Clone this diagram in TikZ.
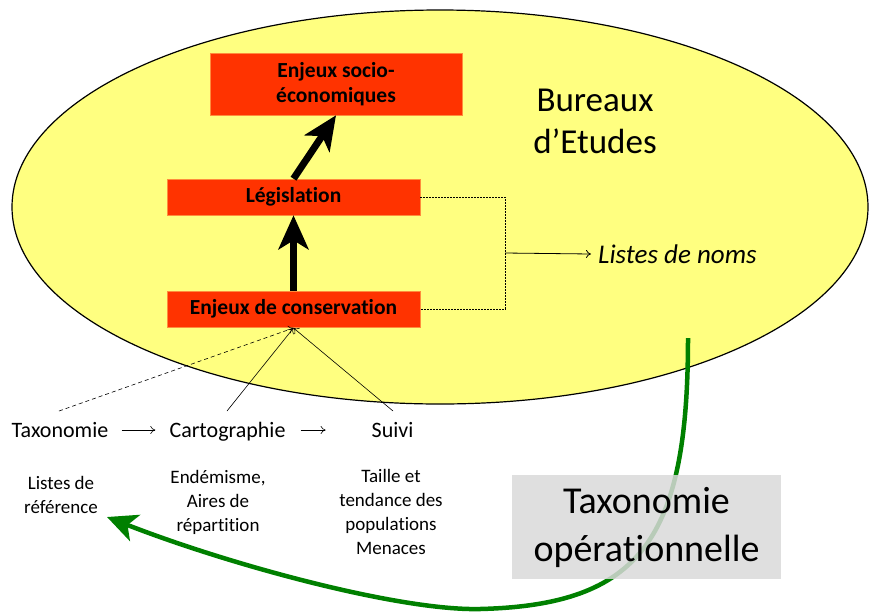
\documentclass[tikz,border=0pt]{standalone}
\usepackage{fontspec}
\setmainfont{Carlito}[Ligatures=CommonOff]
\usetikzlibrary{arrows.meta}
\definecolor{ellfill}{RGB}{255,255,128}
\definecolor{boxred}{RGB}{255,51,0}
\definecolor{boxedge}{RGB}{255,140,60}
\definecolor{darkgreen}{RGB}{0,128,0}
\definecolor{lightgray}{RGB}{217,217,217}
\tikzset{
  redbox/.style={fill=boxred, draw=boxedge, line width=0.6pt, minimum width=253pt, inner sep=0pt,
    font=\fontsize{21.5}{25}\selectfont\bfseries, align=center},
  bigarrow/.style={line width=7pt, -{Stealth[length=34pt,width=30pt,inset=9pt]}},
  thinarrow/.style={line width=0.6pt, -{To[length=5pt,width=8pt]}},
  rowtext/.style={font=\fontsize{22}{26}\selectfont, inner sep=0pt, anchor=base},
  smalltext/.style={font=\fontsize{19}{24}\selectfont, align=center, inner sep=0pt},
}
\begin{document}
\begin{tikzpicture}[x=1pt,y=-1pt]
\useasboundingbox (0,0) rectangle (869,611);
% ellipse
\draw[fill=ellfill, line width=1.2pt] (440,207) ellipse [x radius=428, y radius=197];
% boxes
\node[redbox, minimum width=252pt, minimum height=62pt] (socio) at (336,84) {Enjeux socio-\\économiques};
\node[redbox, minimum height=36pt] (leg) at (293.5,197) {Législation};
\node[redbox, minimum height=36pt] (cons) at (293.5,309) {Enjeux de conservation};
% thick arrows
\draw[bigarrow] (cons.north) -- (leg.south);
\draw[bigarrow] (leg.north) -- (socio.south);
% dashed bracket
\coordinate (br) at (505,253);
\draw[dashed, line width=0.6pt, dash pattern=on 2pt off 1pt] (leg.east) -- (leg.east -| br) -- (cons.east -| br) -- (cons.east);
\node[anchor=west, font=\fontsize{27}{32}\selectfont\itshape, inner sep=0pt] (noms) at (598,254) {Listes de noms};
\draw[thinarrow, line width=0.8pt] (br) -- (noms.west -| 591,0);
% Bureaux
\node[font=\fontsize{35}{42}\selectfont, align=center, inner sep=0pt] (bur) at (595,121) {Bureaux\\d’Etudes};
% bottom row
\node[rowtext] (tax) at (60,437) {Taxonomie};
\node[rowtext] (carto) at (227.5,437) {Cartographie};
\node[rowtext] (suivi) at (392.5,437) {Suivi};
\draw[thinarrow] ([xshift=13pt,yshift=7pt]tax.base east) -- ([xshift=-14pt,yshift=7pt]carto.base west);
\draw[thinarrow] ([xshift=15pt,yshift=7pt]carto.base east) -- ([xshift=40pt,yshift=7pt]carto.base east);
% arrows into conservation
\coordinate (apex) at (293.5,328);
\draw[thinarrow, dashed, dash pattern=on 4pt off 3pt] (59,411) -- (apex);
\draw[thinarrow] (227,411) -- (apex);
\draw[thinarrow] (393,411) -- (apex);
% lower texts
\node[smalltext] (ref) at (61,495) {Listes de\\référence};
\node[smalltext] (endem) at (218,502) {Endémisme,\\Aires de\\répartition};
\node[smalltext] (taille) at (391,512) {Taille et\\tendance des\\populations\\Menaces};
% green arrow
\coordinate (gstart) at (688,338);
\coordinate (gmid) at (480,609);
\coordinate (gend) at (107,517);
\draw[darkgreen, line width=4.5pt, -{Stealth[length=30pt,width=28pt,inset=8pt]}]
  (gstart) .. controls (688,540) and (640,605) .. (gmid)
  .. controls (400,611) and (230,565) .. (gend);
% gray box
\node[fill=lightgray, fill opacity=0.85, text opacity=1, minimum width=269pt, minimum height=104pt,
  font=\fontsize{38}{48}\selectfont, align=center, inner sep=0pt] (oper) at (646.5,527) {Taxonomie\\opérationnelle};
\end{tikzpicture}
\end{document}
